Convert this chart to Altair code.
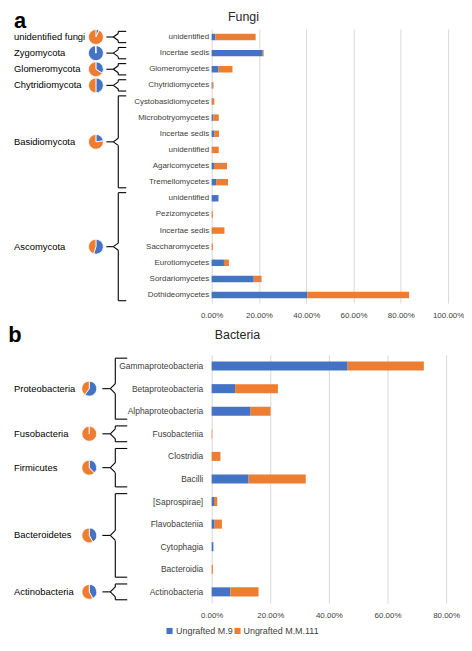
import json
import altair as alt
import pandas as pd

SERIES = ["Ungrafted M.9", "Ungrafted M.M.111"]
COLORS = ["#4472C4", "#ED7D31"]

# ---------------- Fungi ----------------
fungi_classes = ["unidentified", "Incertae sedis", "Glomeromycetes", "Chytridiomycetes",
                 "Cystobasidiomycetes", "Microbotryomycetes", "Incertae sedis", "unidentified",
                 "Agaricomycetes", "Tremellomycetes", "unidentified", "Pezizomycetes",
                 "Incertae sedis", "Saccharomycetes", "Eurotiomycetes", "Sordariomycetes",
                 "Dothideomycetes"]
fungi_m9 = [1.6, 21.6, 2.9, 0.3, 0.1, 0.7, 1.1, 0.0, 1.0, 1.9, 2.9, 0.0, 0.0, 0.0, 5.2, 17.8, 40.4]
fungi_mm111 = [17.0, 0.4, 5.9, 0.5, 1.0, 2.3, 2.0, 3.0, 5.5, 5.0, 0.0, 0.5, 5.4, 0.5, 2.1, 3.3, 43.1]
fungi_phyla = ["unidentified fungi", "Zygomycota", "Glomeromycota", "Chytridiomycota",
               "Basidiomycota", "Ascomycota"]
fungi_first = [0, 1, 2, 3, 4, 10]
fungi_last = [0, 1, 2, 3, 9, 16]
fungi_m9_share = [0.07, 0.99, 0.34, 0.50, 0.23, 0.55]
fungi_ticks = [0, 0.2, 0.4, 0.6, 0.8, 1.0]

# ---------------- Bacteria ----------------
bacteria_classes = ["Gammaproteobacteria", "Betaproteobacteria", "Alphaproteobacteria",
                    "Fusobacteriia", "Clostridia", "Bacilli", "[Saprospirae]", "Flavobacteriia",
                    "Cytophagia", "Bacteroidia", "Actinobacteria"]
bacteria_m9 = [46.4, 8.0, 13.3, 0.0, 0.0, 12.6, 0.8, 1.0, 0.6, 0.0, 6.4]
bacteria_mm111 = [26.0, 14.6, 6.8, 0.2, 3.0, 19.5, 1.1, 2.5, 0.0, 0.4, 9.6]
bacteria_phyla = ["Proteobacteria", "Fusobacteria", "Firmicutes", "Bacteroidetes", "Actinobacteria"]
bacteria_first = [0, 3, 4, 6, 10]
bacteria_last = [2, 3, 5, 9, 10]
bacteria_m9_share = [0.60, 0.0, 0.38, 0.42, 0.42]
bacteria_ticks = [0, 0.2, 0.4, 0.6, 0.8]

COLOR = alt.Color("series:N", scale=alt.Scale(domain=SERIES, range=COLORS), legend=None)


def panel(classes, m9, mm111, phyla, first, last, share, ticks, width, height,
          letter, title, letter_x, text_x, title_x, top_y, title_y,
          pie_x, conn_x, tip_x, vert_x, hook_x, label_size, label_pad, legend=None):
    n = len(classes)
    rows = []
    for i in range(n):
        rows.append({"idx": i, "series": SERIES[0], "value": m9[i] / 100.0, "ord": 0})
        rows.append({"idx": i, "series": SERIES[1], "value": mm111[i] / 100.0, "ord": 1})
    bars_df = pd.DataFrame(rows)

    groups = []
    for name, f, l in zip(phyla, first, last):
        c = (f + l) / 2.0
        groups.append({"name": name, "center": c, "top": f - 0.35, "bot": l + 0.35,
                       "up": c - 0.22, "down": c + 0.22})
    grp_df = pd.DataFrame(groups)

    pies = []
    for name, f, l, s in zip(phyla, first, last, share):
        c = (f + l) / 2.0
        pies.append({"name": name, "center": c, "series": SERIES[0], "t0": 0.0, "t1": s})
        pies.append({"name": name, "center": c, "series": SERIES[1], "t0": s, "t1": 1.0})
    pie_df = pd.DataFrame(pies)

    label_expr = json.dumps(classes) + "[datum.value]"
    bars = alt.Chart(bars_df).mark_bar().encode(
        y=alt.Y("idx:O", sort="ascending",
                scale=alt.Scale(paddingInner=0.6, paddingOuter=0.3),
                axis=alt.Axis(title=None, labelExpr=label_expr, ticks=False, domain=False,
                              labelFontSize=label_size, labelColor="#404040",
                              labelPadding=label_pad, labelLimit=200)),
        x=alt.X("value:Q", stack="zero",
                scale=alt.Scale(domain=[0, ticks[-1]], nice=False),
                axis=alt.Axis(title=None, format=".2%", values=ticks, grid=True,
                              gridColor="#d9d9d9", domain=False, ticks=False,
                              labelFontSize=8, labelColor="#404040", labelPadding=8,
                              labelFlush=False)),
        color=COLOR,
        order=alt.Order("ord:Q"),
    )

    ysc = alt.Scale(domain=[-0.5, n - 0.5], reverse=True, nice=False, zero=False)
    base = alt.Chart(grp_df)
    line = dict(color="black", strokeWidth=1.1)

    vert_top = base.mark_rule(**line).encode(
        x=alt.value(vert_x), y=alt.Y("top:Q", scale=ysc, axis=None), y2="up:Q")
    vert_bot = base.mark_rule(**line).encode(
        x=alt.value(vert_x), y=alt.Y("down:Q", scale=ysc, axis=None), y2="bot:Q")
    diag_up = base.mark_rule(**line).encode(
        x=alt.value(vert_x), x2=alt.value(tip_x),
        y=alt.Y("up:Q", scale=ysc, axis=None), y2="center:Q")
    diag_dn = base.mark_rule(**line).encode(
        x=alt.value(tip_x), x2=alt.value(vert_x),
        y=alt.Y("center:Q", scale=ysc, axis=None), y2="down:Q")
    hook_top = base.mark_rule(**line).encode(
        x=alt.value(vert_x), x2=alt.value(hook_x), y=alt.Y("top:Q", scale=ysc, axis=None))
    hook_bot = base.mark_rule(**line).encode(
        x=alt.value(vert_x), x2=alt.value(hook_x), y=alt.Y("bot:Q", scale=ysc, axis=None))
    conn = base.mark_rule(**line).encode(
        x=alt.value(conn_x), x2=alt.value(tip_x), y=alt.Y("center:Q", scale=ysc, axis=None))

    names = base.mark_text(align="left", baseline="middle", fontSize=9.5, color="black").encode(
        x=alt.value(text_x), y=alt.Y("center:Q", scale=ysc, axis=None), text="name:N")

    pie = alt.Chart(pie_df).mark_arc(outerRadius=7.5, stroke="white", strokeWidth=0.8).encode(
        x=alt.value(pie_x),
        y=alt.Y("center:Q", scale=ysc, axis=None, stack=None),
        theta=alt.Theta("t0:Q", scale=alt.Scale(domain=[0, 1], range=[0, 6.283185307]), stack=None),
        theta2="t1:Q",
        color=COLOR,
    )

    one = pd.DataFrame({"k": [0]})
    letter_mark = alt.Chart(one).mark_text(align="left", baseline="top", fontSize=22,
                                           fontWeight="bold", color="black").encode(
        x=alt.value(letter_x), y=alt.value(top_y), text=alt.value(letter))
    title_mark = alt.Chart(one).mark_text(align="center", baseline="top", fontSize=12.5,
                                          color="#262626").encode(
        x=alt.value(title_x), y=alt.value(title_y), text=alt.value(title))

    layers = [bars, vert_top, vert_bot, diag_up, diag_dn, hook_top, hook_bot, conn,
              pie, names, letter_mark, title_mark]

    if legend is not None:
        leg_df = pd.DataFrame({"series": SERIES})
        for s, (sx, tx) in zip(SERIES, legend["pos"]):
            sub = alt.Chart(leg_df).transform_filter(alt.datum.series == s)
            layers.append(sub.mark_square(size=38, opacity=1).encode(
                x=alt.value(sx), y=alt.value(legend["y"]), color=COLOR))
            layers.append(sub.mark_text(align="left", baseline="middle", fontSize=9,
                                        color="#404040").encode(
                x=alt.value(tx), y=alt.value(legend["y"]), text="series:N"))

    return alt.layer(*layers).resolve_scale(y="independent").properties(width=width, height=height)


fungi = panel(fungi_classes, fungi_m9, fungi_mm111, fungi_phyla, fungi_first, fungi_last,
              fungi_m9_share, fungi_ticks, 238, 276, "a", "Fungi",
              letter_x=-199, text_x=-199, title_x=32, top_y=-18, title_y=-18,
              pie_x=-116.5, conn_x=-106, tip_x=-99, vert_x=-94, hook_x=-86,
              label_size=8, label_pad=3)

bacteria = panel(bacteria_classes, bacteria_m9, bacteria_mm111, bacteria_phyla, bacteria_first,
                 bacteria_last, bacteria_m9_share, bacteria_ticks, 236, 250, "b", "Bacteria",
                 letter_x=-204.7, text_x=-199, title_x=26, top_y=-30, title_y=-26,
                 pie_x=-123.2, conn_x=-110, tip_x=-102, vert_x=-97, hook_x=-85,
                 label_size=8.5, label_pad=9,
                 legend={"y": 278, "pos": [(-42.4, -35.9), (26.0, 32.0)]})

chart = alt.concat(fungi, bacteria, columns=1, align="none", spacing=5).properties(
    padding=0).configure(font="Liberation Sans").configure_view(stroke=None)

chart.save("out.html", embed_options={"renderer": "svg", "actions": False})
